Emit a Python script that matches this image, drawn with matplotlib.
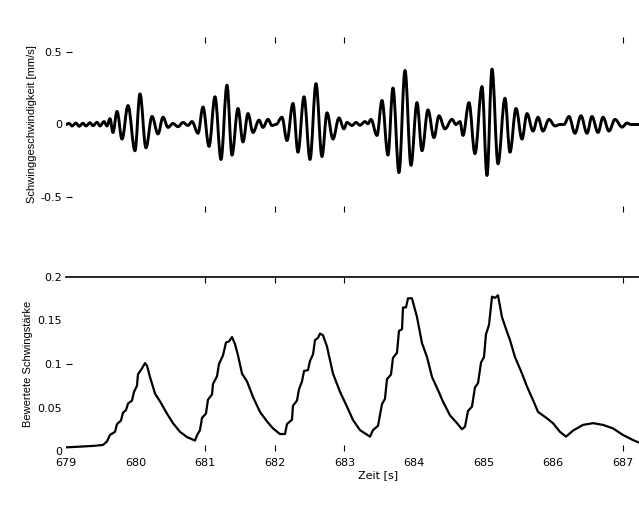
import matplotlib
matplotlib.use("Agg")
import matplotlib.pyplot as plt
from matplotlib.path import Path
from matplotlib.patches import PathPatch

plt.rcParams['font.family'] = ['DejaVu Sans']

# ---- top panel: oscillation extrema (time [s], velocity [mm/s]) ----
vel_t = [679.000, 679.043, 679.086, 679.144, 679.187, 679.244, 679.287, 679.345, 679.388, 679.445,
         679.489, 679.546, 679.589, 679.632, 679.675, 679.733, 679.805, 679.891, 679.991, 680.063,
         680.149, 680.236, 680.322, 680.394, 680.466, 680.537, 680.609, 680.681, 680.753, 680.810,
         680.897, 680.968, 681.055, 681.141, 681.227, 681.313, 681.385, 681.471, 681.543, 681.615,
         681.687, 681.773, 681.830, 681.902, 681.960, 682.017, 682.103, 682.175, 682.261, 682.333,
         682.420, 682.506, 682.592, 682.678, 682.750, 682.836, 682.922, 682.994, 683.037, 683.109,
         683.167, 683.224, 683.296, 683.339, 683.382, 683.468, 683.540, 683.626, 683.698, 683.784,
         683.871, 683.957, 684.043, 684.115, 684.201, 684.287, 684.359, 684.445, 684.546, 684.603,
         684.661, 684.704, 684.790, 684.876, 684.977, 685.049, 685.121, 685.207, 685.307, 685.379,
         685.466, 685.552, 685.624, 685.710, 685.782, 685.853, 685.940, 686.026, 686.098, 686.155,
         686.227, 686.313, 686.399, 686.486, 686.557, 686.644, 686.716, 686.802, 686.888, 686.989,
         687.060, 687.118, 687.233]
vel_v = [0.0, 0.008, -0.01, 0.01, -0.012, 0.008, -0.01, 0.012, -0.008, 0.015,
         -0.01, 0.02, -0.01, 0.04, -0.055, 0.09, -0.10, 0.13, -0.18, 0.21,
         -0.16, 0.055, -0.065, 0.05, -0.02, 0.007, -0.015, 0.014, -0.007, 0.02,
         -0.06, 0.12, -0.15, 0.19, -0.24, 0.27, -0.21, 0.11, -0.12, 0.075,
         -0.055, 0.03, -0.02, 0.035, -0.007, 0.0, 0.05, -0.11, 0.145, -0.19,
         0.19, -0.24, 0.28, -0.22, 0.08, -0.10, 0.045, -0.03, 0.014, -0.007,
         0.014, -0.005, 0.02, 0.005, 0.035, -0.075, 0.165, -0.21, 0.25, -0.33,
         0.37, -0.28, 0.15, -0.18, 0.10, -0.09, 0.06, -0.03, 0.035, 0.0,
         0.02, -0.075, 0.15, -0.20, 0.26, -0.35, 0.38, -0.27, 0.18, -0.19,
         0.11, -0.10, 0.075, -0.045, 0.05, -0.045, 0.035, -0.01, 0.0, 0.0,
         0.055, -0.06, 0.06, -0.06, 0.055, -0.055, 0.05, -0.045, 0.035, -0.018,
         0.01, 0.0, 0.0]

# ---- bottom panel: weighted vibration intensity ----
kb_t = [679.000, 679.201, 679.417, 679.532, 679.589, 679.632, 679.704, 679.733, 679.790, 679.819,
        679.862, 679.891, 679.948, 679.977, 680.020, 680.034, 680.092, 680.135, 680.164, 680.207,
        680.279, 680.351, 680.451, 680.537, 680.638, 680.739, 680.853, 680.882, 680.925, 680.954,
        681.011, 681.040, 681.098, 681.112, 681.170, 681.198, 681.256, 681.299, 681.342, 681.385,
        681.428, 681.471, 681.529, 681.601, 681.687, 681.787, 681.888, 681.974, 682.075, 682.147,
        682.175, 682.247, 682.261, 682.319, 682.348, 682.391, 682.420, 682.477, 682.506, 682.549,
        682.578, 682.621, 682.649, 682.693, 682.750, 682.836, 682.937, 683.037, 683.124, 683.224,
        683.368, 683.411, 683.483, 683.540, 683.583, 683.612, 683.670, 683.698, 683.756, 683.784,
        683.828, 683.842, 683.885, 683.914, 683.971, 684.043, 684.115, 684.187, 684.259, 684.345,
        684.417, 684.517, 684.618, 684.690, 684.733, 684.776, 684.833, 684.876, 684.920, 684.963,
        685.006, 685.034, 685.078, 685.121, 685.164, 685.207, 685.264, 685.336, 685.379, 685.451,
        685.552, 685.624, 685.710, 685.782, 685.911, 685.997, 686.098, 686.184, 686.284, 686.428,
        686.572, 686.716, 686.859, 687.003, 687.147, 687.233]
kb_v = [0.0042, 0.005, 0.006, 0.007, 0.011, 0.0185, 0.022, 0.031, 0.035, 0.044,
        0.047, 0.0545, 0.058, 0.068, 0.075, 0.088, 0.095, 0.101, 0.098, 0.085,
        0.066, 0.057, 0.043, 0.032, 0.022, 0.016, 0.012, 0.018, 0.024, 0.038,
        0.043, 0.059, 0.065, 0.077, 0.086, 0.100, 0.110, 0.1247, 0.126, 0.131,
        0.123, 0.110, 0.089, 0.080, 0.062, 0.045, 0.034, 0.026, 0.0195, 0.0195,
        0.031, 0.036, 0.052, 0.058, 0.071, 0.080, 0.092, 0.093, 0.1036, 0.111,
        0.1275, 0.130, 0.135, 0.133, 0.120, 0.089, 0.068, 0.051, 0.0356, 0.024,
        0.0165, 0.024, 0.029, 0.0538, 0.060, 0.0825, 0.088, 0.107, 0.113, 0.138,
        0.140, 0.165, 0.165, 0.1755, 0.1755, 0.154, 0.124, 0.108, 0.085, 0.070,
        0.0567, 0.041, 0.032, 0.025, 0.028, 0.046, 0.051, 0.073, 0.078, 0.1017,
        0.108, 0.134, 0.145, 0.1774, 0.176, 0.179, 0.154, 0.137, 0.1276, 0.108,
        0.089, 0.074, 0.0586, 0.045, 0.0375, 0.032, 0.022, 0.0165, 0.0234, 0.030,
        0.032, 0.030, 0.026, 0.0184, 0.0126, 0.0096]

x_ticks = [679, 680, 681, 682, 683, 684, 685, 686, 687]
x_ticklabels = ['679', '680', '681', '682', '683', '684', '685', '686', '687']
visible_xtick_marks = [681, 682, 683, 687]
top_yticks = [-0.5, 0, 0.5]
top_yticklabels = ['-0.5', '0', '0.5']
bot_yticks = [0, 0.05, 0.1, 0.15, 0.2]
bot_yticklabels = ['0', '0.05', '0.1', '0.15', '0.2']

W, H = 639, 507
fig = plt.figure(figsize=(W / 100, H / 100), dpi=100)
FS = 8
LABEL_FONT = ['Liberation Sans', 'DejaVu Sans']

def frac(x0, y0, x1, y1):
    return [x0 / W, 1 - y1 / H, (x1 - x0) / W, (y1 - y0) / H]

XMIN, XMAX = 679.0, 687.233

# ---------- top axes ----------
ax1 = fig.add_axes(frac(66, 37, 639, 212))
K = 0.3642
verts = [(vel_t[0], vel_v[0])]
codes = [Path.MOVETO]
for i in range(len(vel_t) - 1):
    dt = vel_t[i + 1] - vel_t[i]
    verts += [(vel_t[i] + K * dt, vel_v[i]), (vel_t[i + 1] - K * dt, vel_v[i + 1]),
              (vel_t[i + 1], vel_v[i + 1])]
    codes += [Path.CURVE4] * 3
ax1.add_patch(PathPatch(Path(verts, codes), fill=False, lw=2.1, ec='black',
                        joinstyle='round', capstyle='round'))
ax1.set_xlim(XMIN, XMAX)
ax1.set_ylim(-0.6, 0.6)
for s in ax1.spines.values():
    s.set_visible(False)
ax1.set_xticks(x_ticks)
ax1.tick_params(axis='x', which='both', direction='in', top=True, bottom=True,
                labelbottom=False, length=4.5, width=0.8)
ax1.set_yticks(top_yticks)
ax1.set_yticklabels(top_yticklabels, fontsize=FS)
ax1.tick_params(axis='y', direction='in', length=4, width=0.8, pad=3)
for tk, val in zip(ax1.xaxis.get_major_ticks(), x_ticks):
    if val not in visible_xtick_marks:
        tk.tick1line.set_visible(False)
        tk.tick2line.set_visible(False)
for tk, val in zip(ax1.yaxis.get_major_ticks(), top_yticks):
    if val == 0:
        tk.tick1line.set_visible(False)
ax1.set_ylabel('Schwinggeschwindigkeit [mm/s]', fontsize=8, family=LABEL_FONT)
ax1.yaxis.set_label_coords((37 - 66) / 573, 0.5)

# ---------- bottom axes ----------
ax2 = fig.add_axes(frac(66, 277, 639, 451))
ax2.plot(kb_t, kb_v, color='black', lw=1.6, solid_joinstyle='round')
ax2.set_xlim(XMIN, XMAX)
ax2.set_ylim(0, 0.2)
for k, s in ax2.spines.items():
    s.set_visible(k == 'top')
ax2.spines['top'].set_linewidth(1.2)
ax2.set_xticks(x_ticks)
ax2.set_xticklabels(x_ticklabels, fontsize=FS)
ax2.tick_params(axis='x', direction='in', top=True, bottom=True, length=4.5,
                width=0.8, pad=4.8)
ax2.set_yticks(bot_yticks)
ax2.set_yticklabels(bot_yticklabels, fontsize=FS)
ax2.tick_params(axis='y', direction='in', length=4, width=0.8, pad=3)
for tk, val in zip(ax2.xaxis.get_major_ticks(), x_ticks):
    if val not in visible_xtick_marks:
        tk.tick1line.set_visible(False)
        tk.tick2line.set_visible(False)
for tk, val in zip(ax2.yaxis.get_major_ticks(), bot_yticks):
    if val != 0.1:
        tk.tick1line.set_visible(False)
ax2.set_ylabel('Bewertete Schwingstärke', fontsize=8, family=LABEL_FONT)
ax2.yaxis.set_label_coords((33 - 66) / 573, 0.5)
ax2.set_xlabel('Zeit [s]', fontsize=FS)
ax2.xaxis.set_label_coords((378 - 66) / 573, -24 / 174)
ax2.xaxis.label.set_va('center')

fig.savefig('out.png', dpi=100, facecolor='white')
